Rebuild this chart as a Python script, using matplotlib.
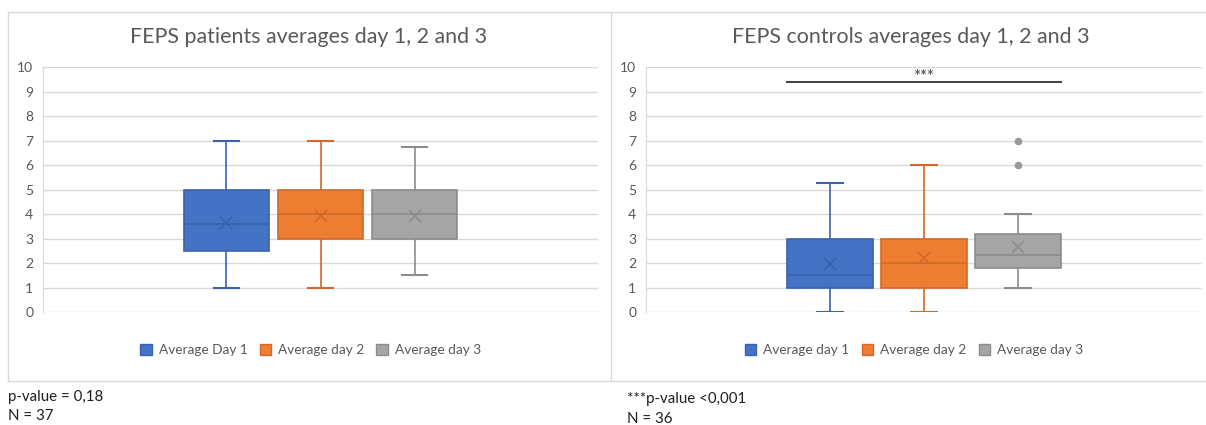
import matplotlib.pyplot as plt
from matplotlib.patches import Patch
from matplotlib.lines import Line2D

plt.rcParams['font.family'] = ['Lato', 'DejaVu Sans']

labels_pat = ['Average Day 1', 'Average day 2', 'Average day 3']
labels_ctl = ['Average day 1', 'Average day 2', 'Average day 3']

# FEPS patients
pat_low = [1.0, 1.0, 1.5]
pat_q1 = [2.5, 3.0, 3.0]
pat_med = [3.6, 4.0, 4.0]
pat_q3 = [5.0, 5.0, 5.0]
pat_high = [7.0, 7.0, 6.75]
pat_mean = [3.65, 3.93, 3.93]
pat_out = [[], [], []]

# FEPS controls
ctl_low = [0.0, 0.0, 1.0]
ctl_q1 = [1.0, 1.0, 1.8]
ctl_med = [1.5, 2.0, 2.35]
ctl_q3 = [3.0, 3.0, 3.2]
ctl_high = [5.28, 6.0, 4.0]
ctl_mean = [1.97, 2.22, 2.68]
ctl_out = [[], [], [6.0, 7.0]]

colors = ['#4472C4', '#ED7D31', '#A5A5A5']
edges = ['#3A62AE', '#D0692A', '#8C8C8C']
grey_txt = '#595959'

W, H = 1206, 425
fig = plt.figure(figsize=(W / 100, H / 100), dpi=100)


def draw(ax, low, q1, med, q3, high, mean, out, labels):
    for i in range(3):
        s = dict(whislo=low[i], q1=q1[i], med=med[i], q3=q3[i],
                 whishi=high[i], mean=mean[i], fliers=out[i])
        ax.bxp([s], positions=[i + 1], widths=0.91, capwidths=0.27,
               showmeans=True, patch_artist=True,
               boxprops=dict(facecolor=colors[i], edgecolor=edges[i], linewidth=1.2),
               medianprops=dict(color=edges[i], linewidth=1.2),
               whiskerprops=dict(color=edges[i], linewidth=1.2),
               capprops=dict(color=edges[i], linewidth=1.5),
               meanprops=dict(marker='x', markeredgecolor=edges[i],
                              markersize=9, markeredgewidth=1.1),
               flierprops=dict(marker='o', markerfacecolor='#999999',
                               markeredgecolor='none', markersize=5.5))
    ax.set_ylim(0, 10)
    ax.set_yticks(range(0, 11))
    ax.set_xlim(2 - 2.952, 2 + 2.952)
    ax.set_xticks([])
    ax.grid(axis='y', color='#D9D9D9', linewidth=1)
    ax.set_axisbelow(True)
    for sp in ['top', 'right', 'bottom']:
        ax.spines[sp].set_visible(False)
    ax.spines['left'].set_color('#D9D9D9')
    ax.tick_params(axis='y', length=0, pad=7, labelsize=10, labelcolor=grey_txt)
    handles = [Patch(facecolor=colors[i], edgecolor=edges[i], label=labels[i]) for i in range(3)]
    ax.legend(handles=handles, loc='center', bbox_to_anchor=(0.482, -0.154), ncol=3,
              frameon=False, fontsize=9.8, handlelength=0.85, handleheight=0.85,
              handletextpad=0.5, columnspacing=0.9, labelcolor=grey_txt)


bottom = (H - 312.2) / H
height = 245 / H
ax1 = fig.add_axes([43 / W, bottom, 555 / W, height])
ax2 = fig.add_axes([646 / W, bottom, 556 / W, height])

draw(ax1, pat_low, pat_q1, pat_med, pat_q3, pat_high, pat_mean, pat_out, labels_pat)
draw(ax2, ctl_low, ctl_q1, ctl_med, ctl_q3, ctl_high, ctl_mean, ctl_out, labels_ctl)

# significance bar on controls
ax2.plot([1 - 0.455, 3 + 0.455], [9.4, 9.4], color='#404040', linewidth=1.4)
ax2.text(2, 9.62, '***', ha='center', va='center', fontsize=12, color='#404040')

fig.text(309 / W, 1 - 37 / H, 'FEPS patients averages day 1, 2 and 3',
         ha='center', va='center', fontsize=15.4, color=grey_txt)
fig.text(911 / W, 1 - 37 / H, 'FEPS controls averages day 1, 2 and 3',
         ha='center', va='center', fontsize=15.4, color=grey_txt)

# chart frames
bc = '#D9D9D9'
for xs, ys in [([8, W], [12, 12]), ([8, W], [381, 381]),
               ([8, 8], [12, 381]), ([611, 611], [12, 381])]:
    fig.add_artist(Line2D([x / W for x in xs], [1 - y / H for y in ys],
                          transform=fig.transFigure, color=bc, linewidth=1))

fig.text(8 / W, 1 - 397 / H, 'p-value = 0,18', va='center', fontsize=10.8, color='#1F1F1F')
fig.text(8 / W, 1 - 416 / H, 'N = 37', va='center', fontsize=10.8, color='#1F1F1F')
fig.text(627 / W, 1 - 399 / H, '***p-value <0,001', va='center', fontsize=10.8, color='#1F1F1F')
fig.text(627 / W, 1 - 419 / H, 'N = 36', va='center', fontsize=10.8, color='#1F1F1F')

fig.savefig('out.png', dpi=100)
